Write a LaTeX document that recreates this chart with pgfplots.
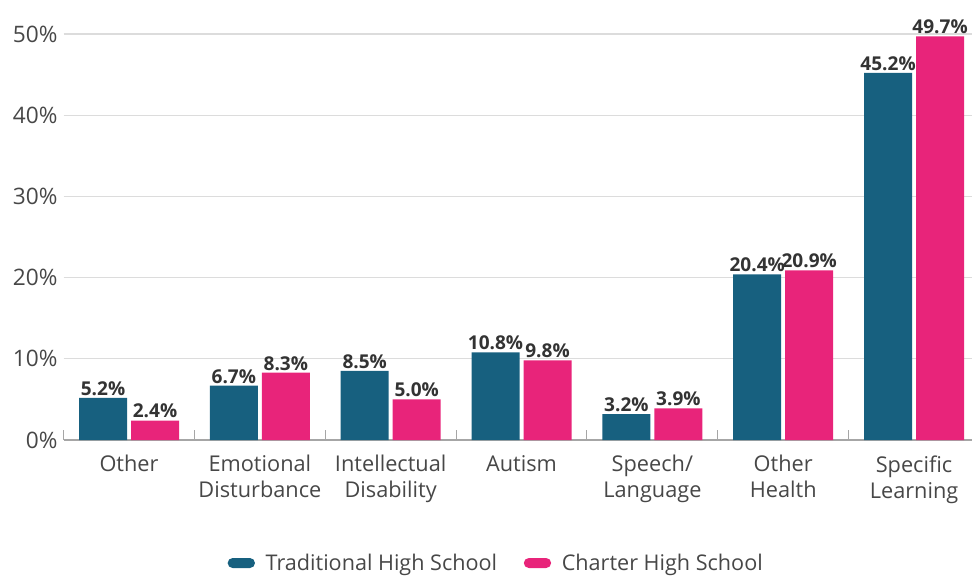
\documentclass[border=0pt]{standalone}
\usepackage{fontspec}
\setmainfont{Open Sans}
\usepackage{pgfplots}
\pgfplotsset{compat=1.18}
\definecolor{trad}{HTML}{17607F}
\definecolor{chart}{HTML}{E8247A}
\definecolor{txt}{HTML}{333333}
\definecolor{gridc}{HTML}{DCDCDC}
\begin{document}
\begin{tikzpicture}
\begin{axis}[
    name=ax,
    scale only axis,
    width=681.3pt, height=304.5pt,
    ybar=3pt, bar width=36pt,
    xmin=-0.5, xmax=6.443,
    ymin=0, ymax=50,
    clip=false,
    axis x line*=bottom,
    axis y line*=left,
    y axis line style={draw=none},
    x axis line style={draw=gray!70, line width=0.8pt},
    xtick={0,...,6},
    xticklabels={Other, Emotional\\Disturbance, Intellectual\\Disability, Autism, Speech/\\Language, Other\\Health, Specific\\Learning},
    major x tick style={draw=none},
    minor xtick={-0.5,0.5,...,5.5},
    minor x tick style={draw=gray!70, line width=0.8pt},
    minor tick length=7.5pt,
    xtick align=inside,
    xticklabel style={align=center, font=\fontsize{16.3}{19.5}\selectfont, text=txt!90, yshift=-8pt},
    ytick={0,10,...,50},
    ymajorgrids,
    grid style={draw=gridc, line width=0.8pt},
    yticklabel={\pgfmathprintnumber{\tick}\%},
    yticklabel style={font=\fontsize{17}{18}\selectfont, text=txt!90, xshift=-1pt},
    /pgf/number format/assume math mode=true,
    major y tick style={draw=none},
    nodes near coords={\pgfmathprintnumber[fixed, fixed zerofill, precision=1]{\pgfplotspointmeta}\%},
    nodes near coords style={font=\bfseries\fontsize{14.3}{16}\selectfont, text=txt, inner sep=1.5pt, inner xsep=0pt},
    legend style={at={(0.4766,-0.303)}, anchor=center, draw=none, fill=none,
        font=\fontsize{16.2}{18}\selectfont, text=txt!90,
        legend columns=2,
        /tikz/every odd column/.append style={column sep=6pt},
        /tikz/every even column/.append style={column sep=18pt}},
    legend cell align=left,
]
\addplot[fill=trad, draw=none,
    legend image code/.code={\fill[trad, rounded corners=3.75pt] (0pt,-3.75pt) rectangle (20.5pt,3.75pt);}]
    coordinates {(0,5.2) (1,6.7) (2,8.5) (3,10.8) (4,3.2) (5,20.4) (6,45.2)};
\addlegendentry{Traditional High School}
\addplot[fill=chart, draw=none,
    legend image code/.code={\fill[chart, rounded corners=3.75pt] (0pt,-3.75pt) rectangle (20.5pt,3.75pt);}]
    coordinates {(0,2.4) (1,8.3) (2,5.0) (3,9.8) (4,3.9) (5,20.9) (6,49.7)};
\addlegendentry{Charter High School}
\end{axis}
\pgfresetboundingbox
\path[use as bounding box] (ax.south west) ++(-47.7pt,-102pt) rectangle ++(729pt,432pt);
\end{tikzpicture}
\end{document}
